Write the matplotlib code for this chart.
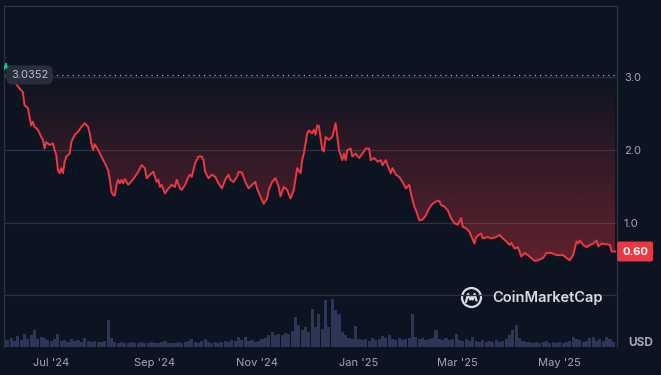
import matplotlib
matplotlib.use("Agg")
import matplotlib.pyplot as plt
import matplotlib.dates as mdates
import matplotlib.transforms as mtransforms
from matplotlib.patches import Polygon, Rectangle, Circle
import numpy as np
import pandas as pd

# price series (USD)
price_dates = [
    "2024-06-03", "2024-06-04", "2024-06-05", "2024-06-06", "2024-06-07", "2024-06-12",
    "2024-06-14", "2024-06-15", "2024-06-16", "2024-06-17", "2024-06-18", "2024-06-19",
    "2024-06-20", "2024-06-21", "2024-06-23", "2024-06-25", "2024-06-26", "2024-06-27",
    "2024-06-28", "2024-06-30", "2024-07-02", "2024-07-03", "2024-07-04", "2024-07-05",
    "2024-07-06", "2024-07-07", "2024-07-08", "2024-07-09", "2024-07-10", "2024-07-12",
    "2024-07-13", "2024-07-15", "2024-07-17", "2024-07-19", "2024-07-21", "2024-07-23",
    "2024-07-24", "2024-07-25", "2024-07-26", "2024-07-27", "2024-07-29", "2024-07-31",
    "2024-08-02", "2024-08-04", "2024-08-05", "2024-08-06", "2024-08-07", "2024-08-08",
    "2024-08-09", "2024-08-10", "2024-08-11", "2024-08-12", "2024-08-13", "2024-08-14",
    "2024-08-16", "2024-08-18", "2024-08-20", "2024-08-22", "2024-08-24", "2024-08-26",
    "2024-08-27", "2024-08-29", "2024-08-31", "2024-09-01", "2024-09-02", "2024-09-03",
    "2024-09-04", "2024-09-05", "2024-09-07", "2024-09-09", "2024-09-11", "2024-09-13",
    "2024-09-14", "2024-09-16", "2024-09-17", "2024-09-19", "2024-09-21", "2024-09-22",
    "2024-09-23", "2024-09-25", "2024-09-27", "2024-09-29", "2024-09-30", "2024-10-01",
    "2024-10-03", "2024-10-05", "2024-10-07", "2024-10-09", "2024-10-11", "2024-10-13",
    "2024-10-15", "2024-10-16", "2024-10-18", "2024-10-20", "2024-10-21", "2024-10-23",
    "2024-10-25", "2024-10-27", "2024-10-29", "2024-10-31", "2024-11-01", "2024-11-03",
    "2024-11-05", "2024-11-07", "2024-11-08", "2024-11-10", "2024-11-12", "2024-11-14",
    "2024-11-15", "2024-11-17", "2024-11-19", "2024-11-21", "2024-11-23", "2024-11-25",
    "2024-11-27", "2024-11-28", "2024-11-29", "2024-12-01", "2024-12-02", "2024-12-04",
    "2024-12-05", "2024-12-06", "2024-12-07", "2024-12-08", "2024-12-10", "2024-12-11",
    "2024-12-12", "2024-12-14", "2024-12-16", "2024-12-18", "2024-12-19", "2024-12-20",
    "2024-12-22", "2024-12-23", "2024-12-24", "2024-12-25", "2024-12-27", "2024-12-28",
    "2024-12-30", "2025-01-01", "2025-01-03", "2025-01-05", "2025-01-07", "2025-01-08",
    "2025-01-10", "2025-01-12", "2025-01-14", "2025-01-15", "2025-01-17", "2025-01-18",
    "2025-01-20", "2025-01-21", "2025-01-23", "2025-01-25", "2025-01-27", "2025-01-29",
    "2025-01-31", "2025-02-01", "2025-02-03", "2025-02-04", "2025-02-06", "2025-02-08",
    "2025-02-10", "2025-02-12", "2025-02-14", "2025-02-16", "2025-02-18", "2025-02-19",
    "2025-02-21", "2025-02-23", "2025-02-25", "2025-02-27", "2025-03-01", "2025-03-03",
    "2025-03-04", "2025-03-06", "2025-03-08", "2025-03-11", "2025-03-12", "2025-03-15",
    "2025-03-16", "2025-03-19", "2025-03-21", "2025-03-24", "2025-03-26", "2025-03-28",
    "2025-03-30", "2025-04-01", "2025-04-02", "2025-04-04", "2025-04-06", "2025-04-08",
    "2025-04-10", "2025-04-12", "2025-04-14", "2025-04-16", "2025-04-18", "2025-04-21",
    "2025-04-23", "2025-04-26", "2025-04-29", "2025-05-03", "2025-05-05", "2025-05-07",
    "2025-05-09", "2025-05-11", "2025-05-12", "2025-05-13", "2025-05-15", "2025-05-17",
    "2025-05-19", "2025-05-21", "2025-05-23", "2025-05-24", "2025-05-26", "2025-05-29",
    "2025-05-31", "2025-06-01", "2025-06-03",
]
prices = [
    3.12, 3.19, 3.09, 3.15, 3.00, 2.85,
    2.80, 2.62, 2.60, 2.58, 2.46, 2.34,
    2.39, 2.32, 2.28, 2.18, 2.14, 2.02,
    2.11, 2.07, 2.09, 2.00, 1.93, 1.72,
    1.68, 1.75, 1.68, 1.84, 1.91, 1.95,
    2.11, 2.21, 2.25, 2.32, 2.37, 2.32,
    2.23, 2.09, 2.00, 2.08, 2.00, 1.91,
    1.82, 1.72, 1.59, 1.42, 1.38, 1.37,
    1.52, 1.59, 1.54, 1.59, 1.54, 1.60,
    1.52, 1.57, 1.63, 1.70, 1.79, 1.75,
    1.61, 1.66, 1.70, 1.63, 1.56, 1.59,
    1.49, 1.52, 1.40, 1.47, 1.52, 1.49,
    1.59, 1.47, 1.45, 1.52, 1.63, 1.66,
    1.63, 1.82, 1.91, 1.91, 1.86, 1.70,
    1.61, 1.66, 1.63, 1.54, 1.47, 1.59,
    1.66, 1.59, 1.56, 1.63, 1.70, 1.69,
    1.56, 1.47, 1.52, 1.56, 1.47, 1.36,
    1.26, 1.33, 1.45, 1.56, 1.61, 1.49,
    1.36, 1.49, 1.45, 1.33, 1.45, 1.75,
    1.68, 1.86, 1.95, 2.23, 2.27, 2.23,
    2.28, 2.21, 2.34, 2.33, 2.00, 1.98,
    2.18, 2.14, 2.18, 2.37, 2.18, 2.00,
    1.86, 1.95, 1.86, 2.00, 2.02, 1.91,
    1.95, 1.89, 1.95, 2.02, 2.02, 1.86,
    1.89, 1.84, 1.86, 1.79, 1.86, 1.79,
    1.68, 1.75, 1.66, 1.63, 1.56, 1.47,
    1.52, 1.40, 1.22, 1.17, 1.03, 1.04,
    1.10, 1.20, 1.26, 1.29, 1.30, 1.24,
    1.22, 1.17, 1.06, 0.99, 0.97, 1.06,
    0.94, 0.92, 0.87, 0.71, 0.80, 0.85,
    0.78, 0.80, 0.78, 0.80, 0.83, 0.78,
    0.74, 0.69, 0.72, 0.64, 0.66, 0.53,
    0.58, 0.55, 0.51, 0.47, 0.48, 0.51,
    0.58, 0.58, 0.55, 0.55, 0.51, 0.48,
    0.55, 0.74, 0.71, 0.75, 0.69, 0.66,
    0.69, 0.71, 0.75, 0.67, 0.71, 0.70,
    0.69, 0.60, 0.60,
]

# volume every second day, relative units
volume = [
    8, 7, 9, 6, 11, 7, 13, 8, 12, 17, 8, 10, 9, 7, 6, 8,
    13, 6, 7, 5, 8, 6, 7, 5, 9, 6, 5, 6, 5, 5, 6,
    27, 9, 5, 4, 5, 4, 4, 5, 4, 4, 5, 4, 4, 5, 4, 4, 5, 6, 4, 4,
    4, 5, 4, 5, 6, 8, 5, 4, 6, 8, 5, 4, 5, 4, 5, 6, 5, 7, 6, 10,
    7, 10, 6, 7, 5, 6,
    8, 9, 12, 15, 12, 13, 12, 14, 13, 16,
    30, 22, 17, 20, 15, 38, 20, 33, 18, 47,
    20, 48, 37, 33, 15, 12, 9, 8, 21, 8,
    7, 8, 6, 9, 7, 8, 11, 9, 12, 8,
    7, 9, 7, 8, 9, 33, 10, 8, 9, 7,
    8, 9, 17, 8, 7, 9, 7, 8, 13, 7,
    6, 8, 6, 10, 6, 5, 7, 5, 6, 5,
    7, 5, 6, 8, 12, 17, 22, 9, 6, 5,
    5, 4, 5, 4, 5, 6, 4, 5, 4, 5,
    4, 5, 6, 10, 8, 7, 5, 6, 9, 10,
    6, 8, 6, 10, 8, 5,
]
volume_start = "2024-06-03"

start_price = 3.0352
last_price = 0.60
tick_dates = ["2024-07-01", "2024-09-01", "2024-11-01", "2025-01-01", "2025-03-01", "2025-05-01"]
tick_labels = ["Jul '24", "Sep '24", "Nov '24", "Jan '25", "Mar '25", "May '25"]

BG = "#0d1421"
RED = "#ea3943"
GREEN = "#16c784"
GRID = "#2a3142"
TXT = "#a1a7bb"

plt.rcParams["font.family"] = ["Inter", "DejaVu Sans"]

W, H = 661, 375
fig = plt.figure(figsize=(W / 100, H / 100), dpi=100, facecolor=BG)
x0, x1, ytop, ybot = 4, 617, 5.5, 347
rect = [x0 / W, 1 - ybot / H, (x1 - x0) / W, (ybot - ytop) / H]

ax = fig.add_axes(rect)
ax.set_facecolor(BG)
ax_vol = ax.twinx()
ax.set_zorder(2)
ax.patch.set_visible(False)
ax_vol.set_zorder(1)

dates = pd.to_datetime(price_dates)
xd = mdates.date2num(dates)
yv = np.array(prices)

vmin, vmax = -0.717, 3.993
xlim = (mdates.date2num(pd.Timestamp("2024-06-02 18:00")), mdates.date2num(pd.Timestamp("2025-06-04 05:00")))

# volume bars
vdates = pd.date_range(volume_start, periods=len(volume), freq="2D")
ax_vol.bar(vdates, volume, width=1.85, color="#30375a", alpha=0.95, linewidth=0)
ax_vol.set_ylim(0, ybot - ytop)
ax_vol.set_yticks([])
for s in ax_vol.spines.values():
    s.set_visible(False)

# red gradient fill between price and start price
below = np.minimum(yv, start_price)
verts = [(xd[0], start_price)] + list(zip(xd, below)) + [(xd[-1], start_price)]
poly = Polygon(verts, closed=True, facecolor="none", edgecolor="none")
ax.add_patch(poly)
grad = np.zeros((256, 1, 4))
grad[..., :3] = matplotlib.colors.to_rgb(RED)
grad[:, 0, 3] = np.linspace(0.55, 0.0, 256)
im = ax.imshow(grad, extent=[xd[0], xd[-1], vmin, start_price], aspect="auto",
               origin="lower", zorder=1, interpolation="bilinear")
im.set_clip_path(poly)

# price line: red below the start price, green above
red_line, = ax.plot(dates, prices, color=RED, lw=1.4, zorder=3, solid_joinstyle="round")
red_line.set_clip_path(Rectangle((xlim[0], vmin), xlim[1] - xlim[0], start_price - vmin,
                                 transform=ax.transData))
green_line, = ax.plot(dates, prices, color=GREEN, lw=1.4, zorder=3, solid_joinstyle="round")
green_line.set_clip_path(Rectangle((xlim[0], start_price), xlim[1] - xlim[0], vmax - start_price,
                                   transform=ax.transData))

ax.axhline(start_price, color="#c9cdd6", lw=0.9, ls=(0, (1, 3.2)), alpha=0.8, zorder=2)

ax.set_xlim(*xlim)
ax.set_ylim(vmin, vmax)

ax.set_yticks([0, 1, 2, 3])
ax.set_yticklabels(["", "1.0", "2.0", "3.0"])
ax.yaxis.tick_right()
ax.grid(axis="y", color=GRID, lw=0.9)
ax.set_axisbelow(True)
ax.tick_params(axis="y", length=0, pad=5, labelcolor=TXT, labelsize=8)

ax.set_xticks(pd.to_datetime(tick_dates))
ax.set_xticklabels(tick_labels)
ax.tick_params(axis="x", length=0, pad=8, labelcolor=TXT, labelsize=8)
ax_vol.tick_params(axis="x", length=0, labelbottom=False)

for side in ["left", "top", "right"]:
    ax.spines[side].set_color(GRID)
    ax.spines[side].set_linewidth(0.9)
ax.spines["bottom"].set_visible(False)

# start price tag
ax.text(0.0416, start_price, f"{start_price:.4f}", transform=mtransforms.blended_transform_factory(ax.transAxes, ax.transData),
        ha="center", va="center", fontsize=8, color="#b9bdc9", zorder=5,
        bbox=dict(boxstyle="round,pad=0.4,rounding_size=0.5", facecolor="#292e3c", edgecolor="none"))

# last price tag
ax.text(1.0294, last_price, f"{last_price:.2f}", transform=mtransforms.blended_transform_factory(ax.transAxes, ax.transData),
        ha="center", va="center", fontsize=8, color="white", fontweight="bold", zorder=5, clip_on=False,
        bbox=dict(boxstyle="round,pad=0.45,rounding_size=0.2", facecolor=RED, edgecolor="none"))

fig.text(641 / W, 1 - 343 / H, "USD", ha="center", va="center", fontsize=8.5, fontweight="bold", color=TXT)

# watermark
logo = fig.add_axes([460 / W, 1 - 309 / H, 23 / W, 23 / H])
logo.set_xlim(-1.15, 1.15)
logo.set_ylim(-1.15, 1.15)
logo.set_aspect("equal")
logo.axis("off")
logo.add_patch(Circle((0, 0), 0.95, fill=False, edgecolor="#d8dbe2", lw=1.6))
logo.plot([-0.55, -0.35, -0.12, 0.0, 0.12, 0.3, 0.5], [-0.45, 0.35, -0.2, 0.05, -0.2, 0.35, -0.3],
          color="#d8dbe2", lw=1.6, solid_capstyle="round", solid_joinstyle="round")
fig.text(492 / W, 1 - 298 / H, "CoinMarketCap", ha="left", va="center", fontsize=10.5,
         fontweight="semibold", color="#d8dbe2")

fig.savefig("out.png", dpi=100, facecolor=BG)
